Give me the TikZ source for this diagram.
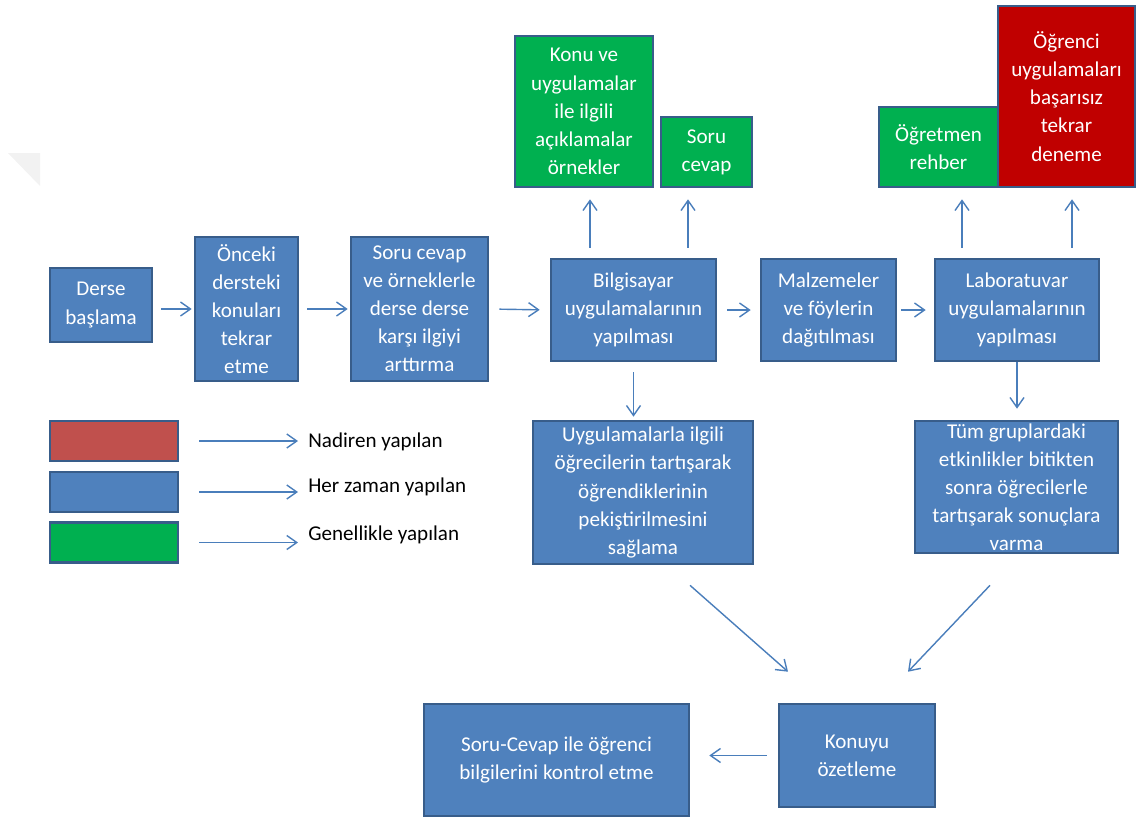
\documentclass[tikz,border=0pt]{standalone}
\usepackage{fontspec}
\setmainfont{Carlito}
\usepackage{tikz}
\usetikzlibrary{arrows.meta, positioning, calc}

\definecolor{boxblue}{HTML}{4F81BD}
\definecolor{boxline}{HTML}{385D8A}
\definecolor{boxgreen}{HTML}{00B050}
\definecolor{boxred}{HTML}{C00000}
\definecolor{legred}{HTML}{C0504D}
\definecolor{flowblue}{HTML}{4A7EBB}

\begin{document}
\begin{tikzpicture}[
    x=0.02cm, y=-0.02cm,
    every node/.style={font=\fontsize{12}{16}\selectfont},
    box/.style={rectangle, draw=boxline, line width=1.5pt, fill=boxblue, text=white, align=center, inner sep=0pt},
    greenbox/.style={box, fill=boxgreen},
    redbox/.style={box, fill=boxred},
    legtext/.style={anchor=west, inner sep=0pt, text=black},
    flow/.style={-{Straight Barb[length=2mm, width=2.8mm]}, draw=flowblue, line width=0.8pt}
]
    \useasboundingbox (0,0) rectangle (1138,818);

    % faint corner mark
    \fill[gray!10] (8,153) -- (40,153) -- (40,186) -- cycle;

    % Main row
    \node[box, minimum width=2.04cm, minimum height=1.48cm] (derse) at (101,305) {Derse\\başlama};
    \node[box, minimum width=2.06cm, minimum height=2.88cm] (onceki) at (246.5,309) {Önceki\\dersteki\\konuları\\tekrar\\etme};
    \node[box, minimum width=2.74cm, minimum height=2.88cm] (ilgi) at (419.5,309) {Soru cevap\\ve örneklerle\\derse derse\\karşı ilgiyi\\arttırma};
    \node[box, minimum width=3.3cm, minimum height=2.04cm] (bilgisayar) at (633.5,310) {Bilgisayar\\uygulamalarının\\yapılması};
    \node[box, minimum width=2.7cm, minimum height=2.04cm] (malzeme) at (828.5,310) {Malzemeler\\ve föylerin\\dağıtılması};
    \node[box, minimum width=3.28cm, minimum height=2.04cm] (lab) at (1017,310) {Laboratuvar\\uygulamalarının\\yapılması};

    % Top row
    \node[greenbox, minimum width=2.76cm, minimum height=3.02cm] (konu) at (584,111.5) {Konu ve\\uygulamalar\\ile ilgili\\açıklamalar\\örnekler};
    \node[greenbox, minimum width=1.82cm, minimum height=1.4cm] (sorucevap) at (706.5,152) {Soru\\cevap};
    \node[greenbox, minimum width=2.38cm, minimum height=1.6cm] (ogretmen) at (938.5,147) {Öğretmen\\rehber};
    \node[redbox, minimum width=2.74cm, minimum height=3.62cm] (ogrenci) at (1066.5,96.5) {Öğrenci\\uygulamaları\\başarısız\\tekrar\\deneme};

    % Lower boxes
    \node[box, minimum width=4.4cm, minimum height=2.86cm] (tartisma) at (643,492.5) {Uygulamalarla ilgili\\öğrecilerin tartışarak\\öğrendiklerinin\\pekiştirilmesini\\sağlama};
    \node[box, minimum width=4.06cm, minimum height=2.64cm] (tumgrup) at (1016.5,487) {Tüm gruplardaki\\etkinlikler bitikten\\sonra öğrecilerle\\tartışarak sonuçlara\\varma};
    \node[box, minimum width=3.12cm, minimum height=2.06cm] (ozet) at (857,755.5) {Konuyu\\özetleme};
    \node[box, minimum width=5.3cm, minimum height=2.24cm] (kontrol) at (556.5,760) {Soru-Cevap ile öğrenci\\bilgilerini kontrol etme};

    % Legend
    \node[box, fill=legred, minimum width=2.56cm, minimum height=0.8cm] (legnadir) at (114,441) {};
    \node[box, minimum width=2.56cm, minimum height=0.8cm] (leghep) at (114,492) {};
    \node[greenbox, minimum width=2.56cm, minimum height=0.8cm] (leggenel) at (114,542.5) {};
    \node[legtext] (nadiren) at (308,442) {Nadiren yapılan};
    \node[legtext] (herzaman) at (308,487) {Her zaman yapılan};
    \node[legtext] (genellikle) at (308,535) {Genellikle yapılan};
    \draw[flow, shorten <=0.4cm, shorten >=0.2cm] (legnadir.east) -- (legnadir.east -| nadiren.west);
    \draw[flow, shorten <=0.4cm, shorten >=0.2cm] (leghep.east) -- (leghep.east -| herzaman.west);
    \draw[flow, shorten <=0.4cm, shorten >=0.2cm] (leggenel.east) -- (leggenel.east -| genellikle.west);

    % Main row arrows
    \draw[flow, shorten <=0.16cm, shorten >=0.04cm] (derse.east |- onceki) -- (onceki.west);
    \draw[flow, shorten <=0.16cm, shorten >=0.04cm] (onceki.east) -- (ilgi.west);
    \draw[flow, shorten <=0.2cm, shorten >=0.2cm] (ilgi.east) -- (bilgisayar.west);
    \draw[flow, shorten <=0.2cm, shorten >=0.18cm] (bilgisayar.east) -- (malzeme.west);
    \draw[flow, shorten <=0.08cm, shorten >=0.16cm] (malzeme.east) -- (lab.west);

    % Up arrows
    \draw[flow, shorten <=0.2cm, shorten >=0.22cm] ([xshift=0.12cm]konu.south |- bilgisayar.north) -- ([xshift=0.12cm]konu.south);
    \draw[flow, shorten <=0.2cm, shorten >=0.22cm] ([xshift=-0.37cm]sorucevap.south |- bilgisayar.north) -- ([xshift=-0.37cm]sorucevap.south);
    \draw[flow, shorten <=0.2cm, shorten >=0.22cm] ([xshift=0.47cm]ogretmen.south |- lab.north) -- ([xshift=0.47cm]ogretmen.south);
    \draw[flow, shorten <=0.2cm, shorten >=0.22cm] ([xshift=0.11cm]ogrenci.south |- lab.north) -- ([xshift=0.11cm]ogrenci.south);

    % Down arrows
    \draw[flow, shorten <=0.2cm, shorten >=0.06cm] (bilgisayar.south) -- (bilgisayar.south |- tartisma.north);
    \draw[flow, shorten >=0.22cm] (lab.south) -- (lab.south |- tumgrup.north);
    \draw[flow] ([xshift=0.94cm, yshift=-0.4cm]tartisma.south) -- ([xshift=-1.38cm, yshift=0.62cm]ozet.north);
    \draw[flow] ([xshift=-0.53cm, yshift=-0.62cm]tumgrup.south) -- ([xshift=1.02cm, yshift=0.62cm]ozet.north);
    \draw[flow, shorten <=0.22cm, shorten >=0.38cm] (ozet.west) -- (ozet.west -| kontrol.east);

\end{tikzpicture}
\end{document}
